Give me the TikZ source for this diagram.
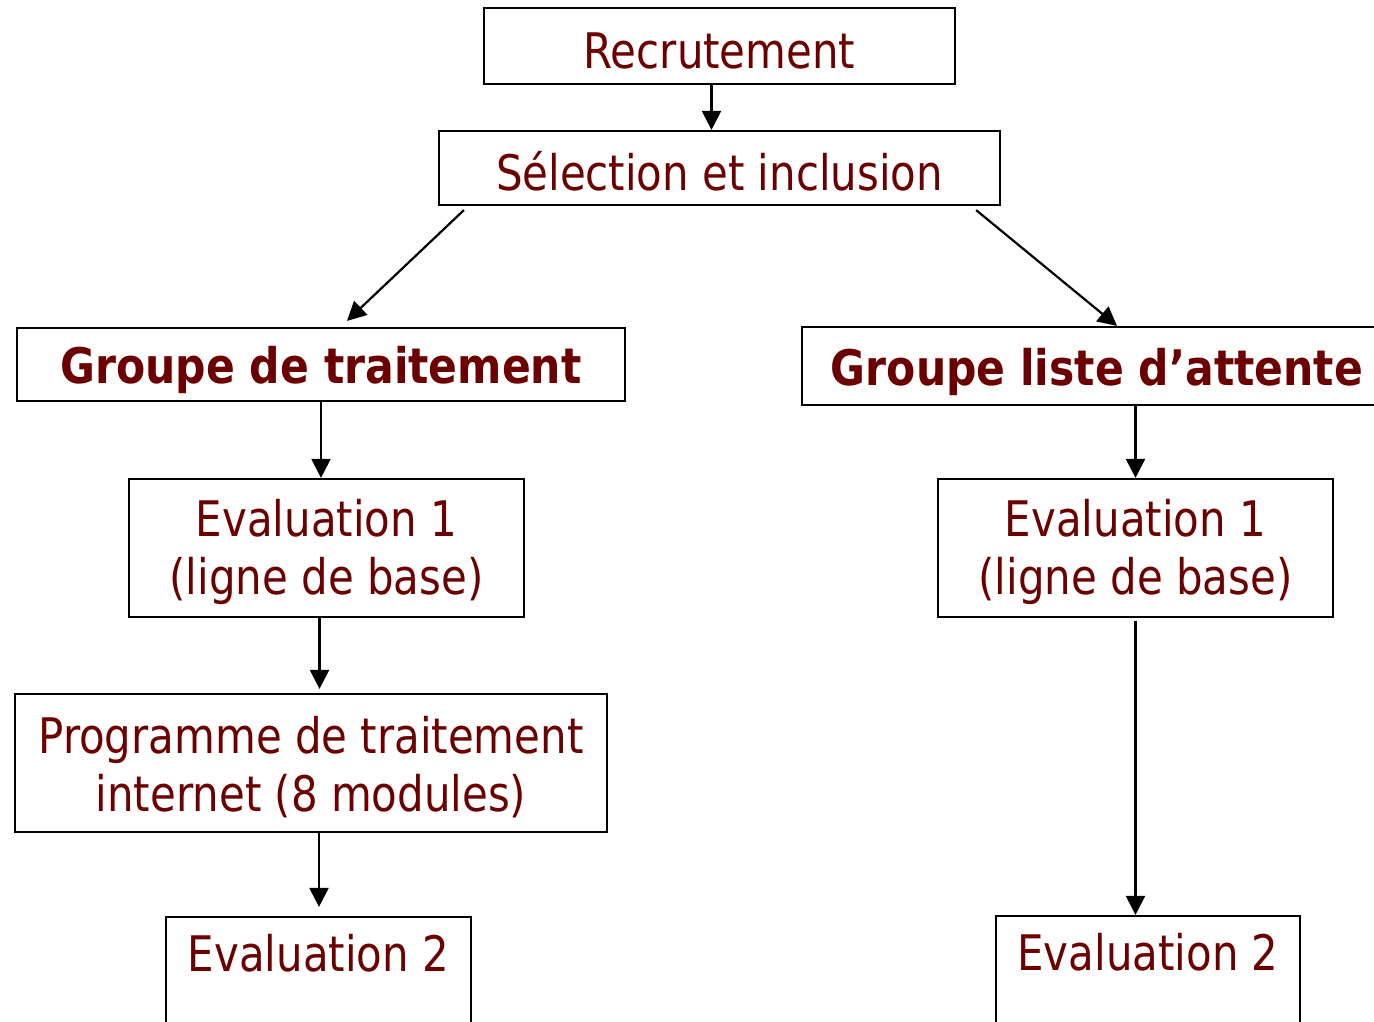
\documentclass[tikz,border=0pt]{standalone}
\usepackage{fontspec}
\setmainfont{DejaVu Sans}[FakeStretch=0.855,BoldFeatures={FakeStretch=0.868}]
\usetikzlibrary{arrows.meta,calc}
\definecolor{txt}{RGB}{108,0,0}
\newcommand{\dn}{\rule{0pt}{45.5pt}}
\newcommand{\dnb}{\rule{0pt}{49pt}}
\begin{document}
\begin{tikzpicture}[x=1pt,y=-1pt,
  box/.style={draw=black,line width=2.2pt,inner sep=0pt,align=center,text=txt,
    font=\fontsize{49}{58}\selectfont},
  boldbox/.style={box,font=\fontsize{49}{58}\selectfont\bfseries},
  conn/.style={draw=black,line width=2.2pt,-{Triangle[width=19pt,length=19pt]}}]
\useasboundingbox (0,0) rectangle (1374,1021);
\clip (0,0) rectangle (1374,1021);
\fill[white] (0,0) rectangle (1374,1021);
% nodes
\node[box,minimum width=471pt,minimum height=76pt] (rec) at (719.5,46) {\dn Recrutement};
\node[box,minimum width=561pt,minimum height=74pt] (sel) at (719.5,168) {\dn Sélection et inclusion};
\node[boldbox,minimum width=608pt,minimum height=73pt] (g1) at (321,364.5) {\dnb Groupe de traitement};
\node[boldbox,minimum width=590pt,minimum height=78pt] (g2) at (1097,366) {\dnb Groupe liste d’attente};
\node[box,minimum width=395pt,minimum height=138pt] (e1l) at (326.5,548) {\dn Evaluation 1\\(ligne de base)};
\node[box,minimum width=592pt,minimum height=138pt] (prog) at (311,763) {\dn Programme de traitement\\internet (8 modules)};
\node[box,minimum width=305pt,minimum height=138pt] (e2l) at (318.5,986) {\dn Evaluation 2\\\strut};
\node[box,minimum width=395pt,minimum height=138pt] (e1r) at (1135.5,548) {\dn Evaluation 1\\(ligne de base)};
\node[box,minimum width=304pt,minimum height=138pt] (e2r) at (1148,985) {\dn Evaluation 2\\\strut};
% connectors
\draw[conn] ([xshift=-8pt]rec.south) -- ([xshift=-8pt]sel.north);
\draw[conn] ([xshift=26pt,yshift=-4pt]sel.south west) -- ([xshift=26pt,yshift=6pt]g1.north);
\draw[conn] ([xshift=-25pt,yshift=-4pt]sel.south east) -- ([xshift=20pt]g2.north);
\draw[conn] (g1.south) -- (g1.south |- e1l.north);
\draw[conn] ([xshift=-7pt]e1l.south) -- ([xshift=-7pt,yshift=4pt]e1l.south |- prog.north);
\draw[conn] ([xshift=8pt]prog.south) -- ([xshift=8pt,yshift=9pt]prog.south |- e2l.north);
\draw[conn] (e1r.north |- g2.south) -- (e1r.north);
\draw[conn] ([yshift=-3pt]e1r.south) -- (e1r.south |- e2r.north);
\end{tikzpicture}
\end{document}
